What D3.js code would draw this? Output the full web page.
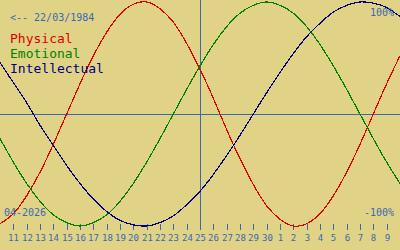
<!DOCTYPE html>
<html>
<head>
<meta charset="utf-8">
<script src="https://cdn.jsdelivr.net/npm/d3@7"></script>
<style>
  body { margin: 0; background: #e0d385; }
  svg { display: block; }
</style>
</head>
<body>
<div id="chart"></div>
<script>
// days shown: 10 Apr .. 10 May 2026 (values read per day)
var dayLabels = ["11","12","13","14","15","16","17","18","19","20","21","22","23","24","25",
                 "26","27","28","29","30","1","2","3","4","5","6","7","8","9"];
var physical = [-98,-89,-73,-52,-27,0,27,52,73,89,98,100,94,82,63,40,14,-14,-40,-63,-82,-94,-100,-98,-89,-73,-52,-27,0,27,52];
var emotional = [-22,-43,-62,-78,-90,-97,-100,-97,-90,-78,-62,-43,-22,0,22,43,62,78,90,97,100,97,90,78,62,43,22,0,-22,-43,-62];
var intellectual = [46,28,10,-10,-28,-46,-62,-76,-87,-95,-99,-100,-97,-91,-81,-69,-54,-37,-19,0,19,37,54,69,81,91,97,100,99,95,87];
var seriesNames = ["Physical", "Emotional", "Intellectual"];
var seriesColors = ["#dd0000", "#008000", "#000080"];
var birthLabel = "<-- 22/03/1984";
var monthLabel = "04-2026";
var todayIndex = 15; // 25 Apr

var W = 400, H = 250;
var axisColor = "#3a68b4";
var mono = "'DejaVu Sans Mono', monospace";

var svg = d3.select("#chart").append("svg").attr("width", W).attr("height", H);
svg.append("rect").attr("width", W).attr("height", H).attr("fill", "#e0d385");

var x = d3.scaleLinear().domain([0, 30]).range([0, 400]);
var y = d3.scaleLinear().domain([-100, 100]).range([226, 2]);

// center line + today line
svg.append("line").attr("x1", 0).attr("x2", W).attr("y1", y(0) + 0.5).attr("y2", y(0) + 0.5)
    .attr("stroke", axisColor).attr("stroke-width", 1).attr("shape-rendering", "crispEdges");
svg.append("line").attr("x1", x(todayIndex) + 0.5).attr("x2", x(todayIndex) + 0.5).attr("y1", 0).attr("y2", 228)
    .attr("stroke", axisColor).attr("stroke-width", 1).attr("shape-rendering", "crispEdges");

// day ticks
var ticks = svg.append("g");
dayLabels.forEach(function(lab, i) {
    var tx = Math.round(x(i + 1)) + 0.5;
    ticks.append("line").attr("x1", tx).attr("x2", tx).attr("y1", 224).attr("y2", 230)
        .attr("stroke", axisColor).attr("stroke-width", 1).attr("shape-rendering", "crispEdges");
    ticks.append("text").attr("x", tx).attr("y", 241).attr("text-anchor", "middle")
        .style("font-family", mono).style("font-size", "9px").attr("fill", axisColor)
        .text(lab);
});

// curves
var line = d3.line()
    .x(function(d, i) { return x(i); })
    .y(function(d) { return y(d); })
    .curve(d3.curveNatural);

[physical, emotional, intellectual].forEach(function(s, i) {
    svg.append("path").datum(s).attr("d", line)
        .attr("fill", "none").attr("stroke", seriesColors[i]).attr("stroke-width", 1.2)
        .attr("shape-rendering", "crispEdges");
});

// labels
svg.append("text").attr("x", 10).attr("y", 21).text(birthLabel)
    .style("font-family", mono).style("font-size", "10px").attr("fill", axisColor);
seriesNames.forEach(function(n, i) {
    svg.append("text").attr("x", 10).attr("y", 43 + i * 15).text(n)
        .style("font-family", mono).style("font-size", "13px").attr("fill", seriesColors[i]);
});
svg.append("text").attr("x", 394).attr("y", 16).attr("text-anchor", "end").text("100%")
    .style("font-family", mono).style("font-size", "10px").attr("fill", axisColor);
svg.append("text").attr("x", 394).attr("y", 216).attr("text-anchor", "end").text("-100%")
    .style("font-family", mono).style("font-size", "10px").attr("fill", axisColor);
svg.append("text").attr("x", 4).attr("y", 216).text(monthLabel)
    .style("font-family", mono).style("font-size", "10px").attr("fill", axisColor);
</script>
</body>
</html>
